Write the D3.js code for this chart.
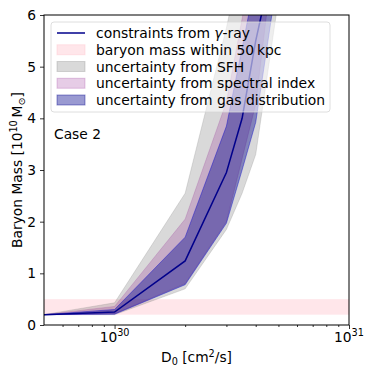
<!DOCTYPE html>
<html>
<head>
<meta charset="utf-8">
<script src="https://cdn.jsdelivr.net/npm/d3@7"></script>
<style>
  body { margin: 0; background: #fff; }
  svg text { font-family: "DejaVu Sans", sans-serif; fill: #000; }
</style>
</head>
<body>
<div id="chart"></div>
<script>
// DATA
var D0 = [5e29, 1e30, 2e30, 3e30, 3.5e30, 4e30, 5e30];
var gammaRay = [0.2, 0.25, 1.24, 2.95, 4.0, 5.5, 7.5];
var sfhLow  = [0.2, 0.2, 0.7, 1.85, 2.55, 3.3, 6.3];
var sfhHigh = [0.2, 0.43, 2.55, 5.75, 7.2, 8.5, 11];
var specLow  = [0.2, 0.22, 0.8, 2.0, 3.22, 4.27, 7.9];
var specHigh = [0.2, 0.36, 2.05, 4.32, 5.93, 7.5, 10];
var gasLow  = [0.2, 0.21, 0.78, 1.97, 3.0, 3.92, 6.85];
var gasHigh = [0.2, 0.3, 1.7, 3.85, 5.36, 6.7, 9];
var baryonMass = [0.2, 0.5];   // within 50 kpc
var yTicks = [0, 1, 2, 3, 4, 5, 6];
var xMajor = [1e30, 1e31];
var xMinor = [6e29, 7e29, 8e29, 9e29, 2e30, 3e30, 4e30, 5e30, 6e30, 7e30, 8e30, 9e30];

// SIZES
var svgWidth = 374, svgHeight = 374;
var margin = {top: 15, right: 25, bottom: 49, left: 44};
var width = svgWidth - margin.left - margin.right;
var height = svgHeight - margin.top - margin.bottom;

var svg = d3.select("#chart").append("svg")
    .attr("width", svgWidth)
    .attr("height", svgHeight);

var chart = svg.append("g")
    .attr("transform", "translate(" + margin.left + "," + margin.top + ")");

var x = d3.scaleLog().domain([5e29, 1e31]).range([0, width]);
var y = d3.scaleLinear().domain([0, 6]).range([height, 0]);

chart.append("clipPath").attr("id", "plotclip")
  .append("rect").attr("width", width).attr("height", height);

var plot = chart.append("g").attr("clip-path", "url(#plotclip)");

// BARYON MASS BAND
plot.append("rect")
    .attr("x", 0)
    .attr("width", width)
    .attr("y", y(baryonMass[1]))
    .attr("height", y(baryonMass[0]) - y(baryonMass[1]))
    .attr("fill", "pink")
    .attr("fill-opacity", 0.4);

// UNCERTAINTY BANDS
function band(lo, hi) {
    return d3.area()
        .x(function(d, i) { return x(D0[i]); })
        .y0(function(d, i) { return y(lo[i]); })
        .y1(function(d, i) { return y(hi[i]); })(D0);
}

plot.append("path").attr("d", band(sfhLow, sfhHigh))
    .attr("fill", "grey").attr("fill-opacity", 0.3)
    .attr("stroke", "grey").attr("stroke-opacity", 0.3).attr("stroke-width", 0.8);
plot.append("path").attr("d", band(specLow, specHigh))
    .attr("fill", "purple").attr("fill-opacity", 0.2)
    .attr("stroke", "purple").attr("stroke-opacity", 0.2).attr("stroke-width", 0.8);
plot.append("path").attr("d", band(gasLow, gasHigh))
    .attr("fill", "#00008b").attr("fill-opacity", 0.4)
    .attr("stroke", "#0000cc").attr("stroke-opacity", 0.4).attr("stroke-width", 1);

// GAMMA-RAY LINE
plot.append("path")
    .attr("d", d3.line()
        .x(function(d, i) { return x(D0[i]); })
        .y(function(d) { return y(d); })(gammaRay))
    .attr("fill", "none")
    .attr("stroke", "#00008b")
    .attr("stroke-width", 1.5);

// AXES
var yAxis = chart.append("g")
    .call(d3.axisLeft(y).tickValues(yTicks).tickFormat(d3.format("d")).tickSize(4).tickPadding(4));

var xAxis = chart.append("g")
    .attr("transform", "translate(0," + height + ")")
    .call(d3.axisBottom(x).tickValues(xMajor).tickFormat("").tickSize(4));

chart.append("g")
    .attr("transform", "translate(0," + height + ")")
    .call(d3.axisBottom(x).tickValues(xMinor).tickFormat("").tickSize(2));

chart.selectAll(".domain").remove();
chart.selectAll(".tick line").attr("stroke", "#000").attr("stroke-width", 0.8);
yAxis.selectAll("text").attr("font-size", "13.8px").attr("fill", "#000")
    .style("font-family", "DejaVu Sans");

// x tick labels 10^30, 10^31
xMajor.forEach(function(v) {
    var t = chart.append("text")
        .attr("x", x(v))
        .attr("y", height + 17)
        .attr("text-anchor", "middle")
        .attr("font-size", "13.8px");
    t.append("tspan").text("10");
    t.append("tspan").attr("dy", -6).attr("font-size", "9.7px").text(Math.round(Math.log10(v)));
});

// frame
chart.append("rect")
    .attr("width", width).attr("height", height)
    .attr("fill", "none").attr("stroke", "#000").attr("stroke-width", 1);

// AXIS LABELS
var xl = chart.append("text")
    .attr("x", width / 2)
    .attr("y", height + 37)
    .attr("text-anchor", "middle")
    .attr("font-size", "13.8px");
xl.append("tspan").text("D");
xl.append("tspan").attr("dy", 3).attr("font-size", "9.7px").text("0");
xl.append("tspan").attr("dy", -3).text(" [cm");
xl.append("tspan").attr("dy", -5).attr("font-size", "9.7px").text("2");
xl.append("tspan").attr("dy", 5).text("/s]");

var yl = chart.append("text")
    .attr("transform", "translate(" + (-22) + "," + (height / 2) + ") rotate(-90)")
    .attr("text-anchor", "middle")
    .attr("font-size", "13.8px");
yl.append("tspan").text("Baryon Mass [10");
yl.append("tspan").attr("dy", -5).attr("font-size", "9.7px").text("10");
yl.append("tspan").attr("dy", 5).text("\u2009M");
yl.append("tspan").attr("dy", 3).attr("font-size", "9.7px").text("\u2299");
yl.append("tspan").attr("dy", -3).text("]");

// CASE LABEL
chart.append("text")
    .attr("x", 10)
    .attr("y", 124)
    .attr("font-size", "13.8px")
    .text("Case 2");

// LEGEND
var legend = chart.append("g").attr("transform", "translate(7,7)");
legend.append("rect")
    .attr("width", 279).attr("height", 90).attr("rx", 3)
    .attr("fill", "#fff").attr("fill-opacity", 0.55)
    .attr("stroke", "#d6d6d6").attr("stroke-width", 0.8);

var rowY = function(i) { return 11 + i * 16.75; };

legend.append("line")
    .attr("x1", 6).attr("x2", 34).attr("y1", rowY(0)).attr("y2", rowY(0))
    .attr("stroke", "#00008b").attr("stroke-width", 1.5);

var swatches = [
    {fill: "pink", op: 0.4},
    {fill: "grey", op: 0.3},
    {fill: "purple", op: 0.2},
    {fill: "#00008b", op: 0.4}
];
swatches.forEach(function(s, i) {
    legend.append("rect")
        .attr("x", 6).attr("y", rowY(i + 1) - 5)
        .attr("width", 28).attr("height", 10)
        .attr("fill", s.fill).attr("fill-opacity", s.op)
        .attr("stroke", s.fill).attr("stroke-opacity", s.op);
});

var labels = ["baryon mass within 50\u2009kpc", "uncertainty from SFH",
              "uncertainty from spectral index", "uncertainty from gas distribution"];

var l0 = legend.append("text").attr("x", 45).attr("y", rowY(0) + 5).attr("font-size", "13.9px");
l0.append("tspan").text("constraints from ");
l0.append("tspan").attr("font-style", "italic").text("\u03b3");
l0.append("tspan").text("-ray");

labels.forEach(function(t, i) {
    legend.append("text")
        .attr("x", 45).attr("y", rowY(i + 1) + 5)
        .attr("font-size", "13.9px")
        .text(t);
});
</script>
</body>
</html>
